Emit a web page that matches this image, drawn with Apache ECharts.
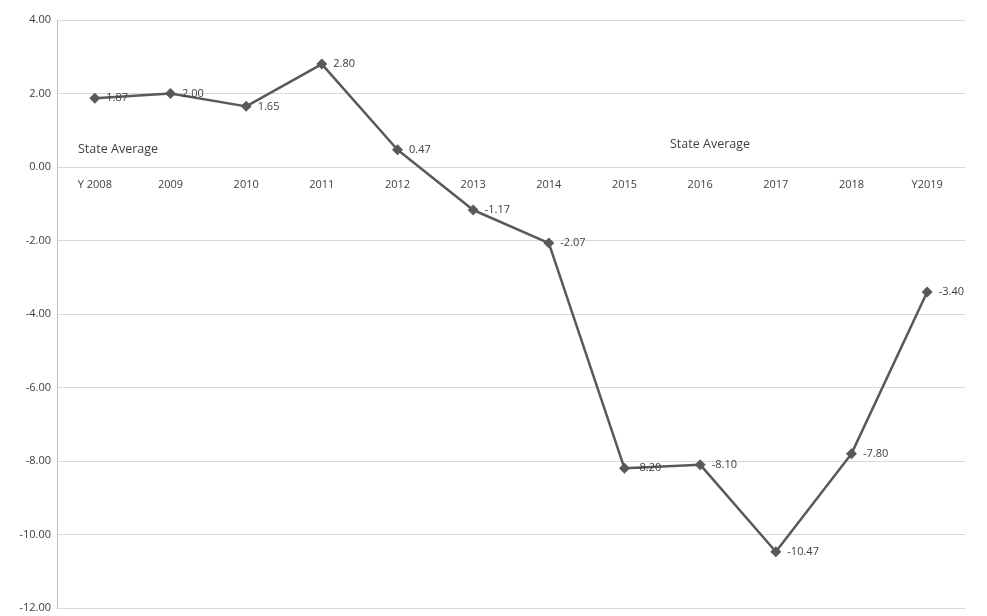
<!DOCTYPE html>
<html>
<head>
<meta charset="utf-8">
<script src="https://cdn.jsdelivr.net/npm/echarts@6/dist/echarts.min.js"></script>
<style>
  html, body { margin: 0; padding: 0; background: #fff; }
  #chart { width: 987px; height: 616px; }
</style>
</head>
<body>
<div id="chart"></div>
<script>
const years = ['Y 2008', '2009', '2010', '2011', '2012', '2013', '2014', '2015', '2016', '2017', '2018', 'Y2019']
const values = [1.87, 2.00, 1.65, 2.80, 0.47, -1.17, -2.07, -8.20, -8.10, -10.47, -7.80, -3.40]
const noteText = 'State Average'

const font = 'Open Sans'
const chart = echarts.init(document.getElementById('chart'))

// the category labels sit under the zero line: grid is 588px tall, zero is 4/16 down
const zeroOffset = -(588 * 12 / 16)

const option = {
  backgroundColor: '#fff',
  animation: false,
  grid: { left: 57, right: 22, top: 20, bottom: 8, containLabel: false, outerBoundsMode: 'none' },
  xAxis: {
    type: 'category',
    data: years,
    boundaryGap: true,
    position: 'bottom',
    offset: zeroOffset,
    axisLine: { show: false, onZero: false },
    axisTick: { show: false },
    axisLabel: { color: '#404040', fontFamily: font, fontSize: 11, margin: 12 },
    splitLine: { show: false }
  },
  yAxis: {
    type: 'value',
    min: -12,
    max: 4,
    interval: 2,
    axisLine: { show: true, onZero: false, lineStyle: { color: '#bfbfbf' } },
    axisTick: { show: false },
    axisLabel: {
      color: '#404040', fontFamily: font, fontSize: 11, margin: 6,
      formatter: v => v.toFixed(2)
    },
    splitLine: { lineStyle: { color: '#d9d9d9', width: 1 } }
  },
  graphic: [
    { type: 'text', left: 78, top: 143, style: { text: noteText, fill: '#404040', font: '12.5px ' + font } },
    { type: 'text', left: 670, top: 138, style: { text: noteText, fill: '#404040', font: '12.5px ' + font } }
  ],
  series: [{
    type: 'line',
    data: values,
    symbol: 'diamond',
    symbolSize: 11,
    lineStyle: { color: '#595959', width: 2.5 },
    itemStyle: { color: '#595959' },
    label: {
      show: true,
      position: 'right',
      distance: 6,
      color: '#404040',
      fontFamily: font,
      fontSize: 11,
      formatter: p => p.value.toFixed(2)
    }
  }]
}

chart.setOption(option)
</script>
</body>
</html>
